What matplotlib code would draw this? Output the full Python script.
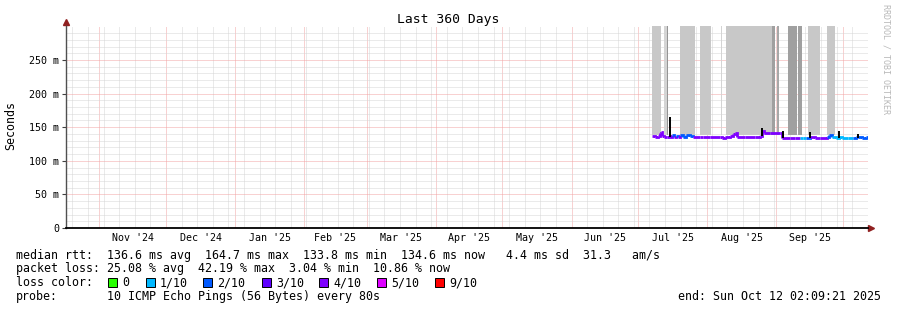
import datetime as dt
import matplotlib
matplotlib.use("Agg")
import matplotlib.pyplot as plt
import matplotlib.dates as mdates
import matplotlib.transforms as mtransforms
from matplotlib.patches import Rectangle

W, H = 897, 310
END = dt.datetime(2025, 10, 12, 2, 9, 21)
START = END - dt.timedelta(days=360)
Y_MAX = 300.5

# median rtt (ms) and number of lost pings (of 10) per sample
rtt_times = [
    "2025-07-07 01:00", "2025-07-08 10:00", "2025-07-09 17:00", "2025-07-10 14:00",
    "2025-07-11 02:00", "2025-07-11 12:00", "2025-07-12 10:00", "2025-07-13 19:00",
    "2025-07-14 17:00", "2025-07-15 05:00", "2025-07-16 02:00", "2025-07-17 00:00",
    "2025-07-17 22:00", "2025-07-18 19:00", "2025-07-19 17:00", "2025-07-21 00:00",
    "2025-07-22 10:00", "2025-07-24 05:00", "2025-07-25 12:00", "2025-07-28 14:00",
    "2025-07-29 22:00", "2025-08-02 02:00", "2025-08-06 14:00", "2025-08-07 12:00",
    "2025-08-08 19:00", "2025-08-11 02:00", "2025-08-12 10:00", "2025-08-13 07:00",
    "2025-08-14 05:00", "2025-08-17 19:00", "2025-08-22 07:00", "2025-08-24 12:00",
    "2025-08-25 10:00", "2025-08-26 07:00", "2025-08-29 00:00", "2025-09-02 12:00",
    "2025-09-03 10:00", "2025-09-07 00:00", "2025-09-09 05:00", "2025-09-11 12:00",
    "2025-09-12 19:00", "2025-09-14 05:00", "2025-09-16 00:00", "2025-09-18 05:00",
    "2025-09-20 12:00", "2025-09-23 14:00", "2025-09-24 12:00", "2025-09-25 19:00",
    "2025-09-27 14:00", "2025-09-29 00:00", "2025-09-30 07:00", "2025-10-03 00:00",
    "2025-10-05 07:00", "2025-10-06 14:00", "2025-10-07 12:00", "2025-10-09 07:00",
    "2025-10-11 02:00", "2025-10-12 02:00",
]
rtt_ms = [
    137, 136, 137, 141, 143, 137, 135, 136,
    137, 136, 138, 135, 137, 136, 138, 136,
    138, 137, 136, 136, 135, 135, 135, 134,
    135, 137, 140, 141, 136, 136, 136, 137,
    145, 142, 142, 142, 134, 134, 134, 134,
    134, 134, 135, 134, 134, 135, 138, 135,
    134, 136, 134, 134, 134, 135, 136, 134,
    135, 135,
]
rtt_loss = [
    4, 4, 4, 4, 4, 4, 4, 4,
    4, 4, 2, 4, 2, 4, 2, 2,
    2, 2, 4, 4, 4, 4, 4, 4,
    4, 4, 4, 4, 4, 4, 4, 4,
    4, 4, 4, 4, 4, 4, 4, 1,
    1, 2, 4, 4, 4, 2, 2, 1,
    1, 1, 1, 1, 2, 2, 2, 2,
    2, 2,
]

# black spikes
spike_times = ["2025-07-15 05:00", "2025-08-25 10:00", "2025-09-03 19:00",
               "2025-09-16 00:00", "2025-09-29 00:00", "2025-10-07 12:00"]
spike_low = [136, 137, 134, 134, 134, 134]
spike_high = [165, 149, 145, 143, 144, 140]

# smoke bands
smoke_start = ["2025-07-07 01:00", "2025-07-12 10:00", "2025-07-13 19:00", "2025-07-19 17:00",
               "2025-07-28 14:00", "2025-08-07 00:00", "2025-08-09 07:00", "2025-08-29 22:00",
               "2025-09-01 02:00", "2025-09-06 02:00", "2025-09-10 14:00", "2025-09-15 02:00",
               "2025-09-23 14:00"]
smoke_end = ["2025-07-11 02:00", "2025-07-13 19:00", "2025-07-14 07:00", "2025-07-26 07:00",
             "2025-08-02 12:00", "2025-08-07 12:00", "2025-08-29 22:00", "2025-08-31 05:00",
             "2025-09-02 00:00", "2025-09-10 02:00", "2025-09-12 10:00", "2025-09-20 12:00",
             "2025-09-27 05:00"]
smoke_color = ["#c8c8c8", "#d4d4d4", "#959595", "#c8c8c8",
               "#c8c8c8", "#d4d4d4", "#c8c8c8", "#a0a0a0",
               "#a8a8a8", "#a0a0a0", "#a0a0a0", "#c8c8c8",
               "#c8c8c8"]
smoke_low = 139

loss_keys = [0, 1, 2, 3, 4, 5, 9]
loss_labels = ["0", "1/10", "2/10", "3/10", "4/10", "5/10", "9/10"]
loss_colors = ["#26ff00", "#00b8ff", "#0059ff", "#5e00ff", "#7e00ff", "#dd00ff", "#ff0000"]
loss_color_of = dict(zip(loss_keys, loss_colors))

MONO = "DejaVu Sans Mono"
MINOR_C = "#d6d6d6"
MAJOR_C = "#f2a4a4"
DOTS = (0, (1, 1))


def parse(s):
    return dt.datetime.strptime(s, "%Y-%m-%d %H:%M")


def fx(px):
    return px / W


def fy(py):
    return 1 - py / H


fig = plt.figure(figsize=(W / 100, H / 100), dpi=100)
fig.patch.set_facecolor("white")
ax = fig.add_axes([fx(66), fy(228), (868 - 66) / W, (228 - 26) / H])

t = [parse(s) for s in rtt_times]

for s, e, c in zip(smoke_start, smoke_end, smoke_color):
    ax.fill_between([parse(s), parse(e)], smoke_low, Y_MAX, color=c, lw=0, zorder=1)

# step line coloured by loss
for i in range(len(t) - 1):
    ax.plot([t[i], t[i + 1], t[i + 1]], [rtt_ms[i], rtt_ms[i], rtt_ms[i + 1]],
            color=loss_color_of[rtt_loss[i]], lw=2.0,
            solid_capstyle="butt", solid_joinstyle="miter", zorder=3)

ax.vlines([parse(s) for s in spike_times], spike_low, spike_high,
          color="black", lw=1.4, zorder=4)

ax.set_xlim(START, END)
ax.set_ylim(0, Y_MAX)

ax.xaxis.set_major_locator(mdates.MonthLocator())
ax.xaxis.set_minor_locator(mdates.WeekdayLocator(byweekday=mdates.SU))
ax.xaxis.set_major_formatter(plt.NullFormatter())
ax.tick_params(axis="x", which="both", length=0)

ax.set_yticks(range(0, 300, 50))
ax.set_yticks(range(0, 300, 10), minor=True)
ax.set_yticklabels(["0" if v == 0 else f"{v} m" for v in range(0, 300, 50)],
                   family=MONO, fontsize=7.2)
ax.tick_params(axis="y", which="major", length=3, width=0.8, color="#404040", pad=2)
ax.tick_params(axis="y", which="minor", length=0)

ax.set_axisbelow(True)
ax.grid(which="minor", color=MINOR_C, ls=DOTS, lw=0.72)
ax.grid(which="major", color=MAJOR_C, ls=DOTS, lw=0.72)

for side in ["top", "right"]:
    ax.spines[side].set_visible(False)
ax.spines["left"].set_color("#505050")
ax.spines["left"].set_linewidth(1.0)
ax.spines["bottom"].set_color("black")
ax.spines["bottom"].set_linewidth(1.3)

# arrows
ax.plot([0], [1.0 + 4 / 202], marker="^", color="#902020", markersize=4,
        transform=ax.transAxes, clip_on=False)
ax.plot([1.0 + 3 / 802], [0], marker=">", color="#902020", markersize=4,
        transform=ax.transAxes, clip_on=False)

# month labels centred on each month
trans = mtransforms.blended_transform_factory(ax.transData, ax.transAxes)
m = dt.datetime(START.year, START.month, 1)
while m < END:
    nxt = dt.datetime(m.year + (m.month // 12), m.month % 12 + 1, 1)
    mid = m + (nxt - m) / 2
    if START < mid < END:
        ax.text(mid, -10 / 202, mid.strftime("%b '%y"), transform=trans,
                ha="center", va="center", family=MONO, fontsize=7.2)
    m = nxt

fig.text(fx(448), fy(19), "Last 360 Days", ha="center", va="center",
         family=MONO, fontsize=9.4)
fig.text(fx(11), fy(126), "Seconds", ha="center", va="center", rotation=90,
         family=MONO, fontsize=8.4)
fig.text(fx(886), fy(4), "RRDTOOL / TOBI OETIKER", ha="center", va="top",
         rotation=270, family=MONO, fontsize=6, color="#b8b8b8")

fig.text(fx(16), fy(255),
         "median rtt:  136.6 ms avg  164.7 ms max  133.8 ms min  134.6 ms now   4.4 ms sd  31.3   am/s",
         va="center", family=MONO, fontsize=8.4)
fig.text(fx(16), fy(268.5),
         "packet loss: 25.08 % avg  42.19 % max  3.04 % min  10.86 % now",
         va="center", family=MONO, fontsize=8.4)
fig.text(fx(16), fy(282.5), "loss color:", va="center", family=MONO, fontsize=8.4)
box_x = [108, 146, 203, 262, 319, 377, 435]
for bx, lab, col in zip(box_x, loss_labels, loss_colors):
    fig.patches.append(Rectangle((fx(bx), fy(286.5)), 8.5 / W, 8.5 / H,
                                 transform=fig.transFigure, facecolor=col,
                                 edgecolor="black", lw=0.7))
    fig.text(fx(bx + 14), fy(282.5), lab, va="center", family=MONO, fontsize=8.4)
fig.text(fx(16), fy(296.5), "probe:", va="center", family=MONO, fontsize=8.4)
fig.text(fx(107), fy(296.5), "10 ICMP Echo Pings (56 Bytes) every 80s",
         va="center", family=MONO, fontsize=8.4)
fig.text(fx(881), fy(296.5), "end: Sun Oct 12 02:09:21 2025", ha="right",
         va="center", family=MONO, fontsize=8.4)

fig.savefig("out.png", dpi=100)
